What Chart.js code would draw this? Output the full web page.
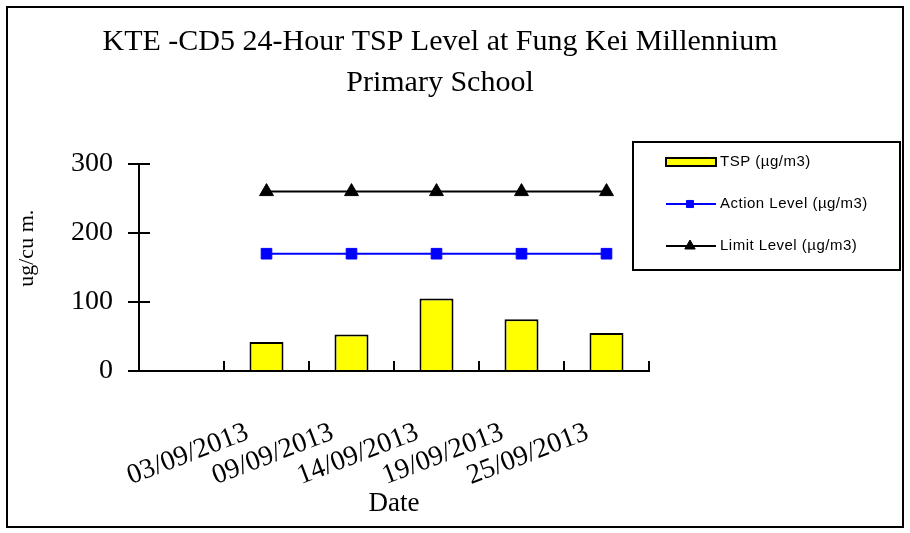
<!DOCTYPE html>
<html>
<head>
<meta charset="utf-8">
<script src="https://cdn.jsdelivr.net/npm/chart.js@4"></script>
<style>
  html, body { margin: 0; padding: 0; background: #fff; }
  canvas { display: block; }
</style>
</head>
<body>
<canvas id="chart" width="910" height="533"></canvas>
<script>
// Values.
const categories = ['', '03/09/2013', '09/09/2013', '14/09/2013', '19/09/2013', '25/09/2013'];
const tspValues = [null, 42, 53, 105, 75, 55];
const actionLevel = [null, 170, 170, 170, 170, 170];
const limitLevel = [null, 260, 260, 260, 260, 260];
const yTicks = [0, 100, 200, 300];

const titleLines = ['KTE -CD5 24-Hour TSP Level at Fung Kei Millennium', 'Primary School'];
const seriesLabels = ['TSP (\u00b5g/m3)', 'Action Level (\u00b5g/m3)', 'Limit Level (\u00b5g/m3)'];

const SERIF = '"Liberation Serif", "DejaVu Serif", serif';
const SANS = '"Liberation Sans", Arial, sans-serif';

Chart.defaults.color = '#000';

// Frame round the whole picture, plus the tick marks that point into the plot.
const decorations = {
  id: 'decorations',
  afterDraw(chart) {
    const ctx = chart.ctx;
    const x = chart.scales.x;
    const y = chart.scales.y;
    ctx.save();
    ctx.strokeStyle = '#000';
    ctx.lineWidth = 2;
    ctx.strokeRect(7, 7, 896, 520);

    ctx.beginPath();
    const step = (x.right - x.left) / categories.length;
    for (let i = 1; i <= categories.length; i++) {
      const px = Math.round(x.left + i * step);
      ctx.moveTo(px, y.bottom);
      ctx.lineTo(px, y.bottom - 10);
    }
    y.ticks.forEach((t, i) => {
      const py = y.getPixelForTick(i);
      ctx.moveTo(y.right, py);
      ctx.lineTo(y.right + 11, py);
    });
    ctx.stroke();
    ctx.restore();
  },
};

// Legend in its own bordered box at the right.
const boxLegend = {
  id: 'boxLegend',
  afterDraw(chart) {
    const ctx = chart.ctx;
    const ds = chart.data.datasets;
    ctx.save();
    ctx.strokeStyle = '#000';
    ctx.lineWidth = 2;
    ctx.strokeRect(633, 142, 267, 128);

    const rows = [162, 204, 246];
    const sx = 666, ex = 716, mx = 690;

    // bar swatch
    ctx.fillStyle = ds[0].backgroundColor;
    ctx.fillRect(sx, rows[0] - 4, ex - sx, 8);
    ctx.strokeStyle = ds[0].borderColor;
    ctx.strokeRect(sx, rows[0] - 4, ex - sx, 8);

    // line swatches with their markers
    [1, 2].forEach((k) => {
      const cy = rows[k];
      ctx.strokeStyle = ds[k].borderColor;
      ctx.fillStyle = ds[k].pointBackgroundColor;
      ctx.lineWidth = 2;
      ctx.beginPath();
      ctx.moveTo(sx, cy);
      ctx.lineTo(ex, cy);
      ctx.stroke();
      ctx.lineWidth = 1;
      Chart.helpers.drawPoint(ctx, {
        pointStyle: ds[k].pointStyle,
        radius: k === 1 ? 5 : 6,
        borderWidth: 1,
        rotation: 0,
      }, mx, cy);
    });

    ctx.font = '15px ' + SANS;
    ctx.letterSpacing = '0.5px';
    ctx.textBaseline = 'middle';
    ctx.fillStyle = '#000';
    ds.forEach((d, k) => ctx.fillText(d.label, 720, rows[k]));
    ctx.restore();
  },
};

new Chart(document.getElementById('chart'), {
  data: {
    labels: categories,
    datasets: [
      {
        type: 'bar',
        label: seriesLabels[0],
        data: tspValues,
        backgroundColor: '#FFFF00',
        borderColor: '#000',
        borderWidth: 2,
        barPercentage: 0.4,
        categoryPercentage: 1,
        order: 3,
      },
      {
        type: 'line',
        label: seriesLabels[1],
        data: actionLevel,
        borderColor: '#0000FF',
        backgroundColor: '#0000FF',
        borderWidth: 2,
        pointStyle: 'rect',
        pointRadius: 7.5,
        pointBorderWidth: 1,
        pointBackgroundColor: '#0000FF',
        pointBorderColor: '#0000FF',
        fill: false,
        order: 2,
      },
      {
        type: 'line',
        label: seriesLabels[2],
        data: limitLevel,
        borderColor: '#000',
        backgroundColor: '#000',
        borderWidth: 2,
        pointStyle: 'triangle',
        pointRadius: 8,
        pointBorderWidth: 1,
        pointBackgroundColor: '#000',
        pointBorderColor: '#000',
        fill: false,
        order: 1,
      },
    ],
  },
  options: {
    responsive: false,
    animation: false,
    devicePixelRatio: 1,
    layout: { padding: { left: 0, right: 30, top: 0, bottom: 0 } },
    plugins: {
      legend: { display: false },
      tooltip: { enabled: false },
      title: {
        display: true,
        text: titleLines,
        color: '#000',
        font: { family: SERIF, size: 30, weight: 'normal', lineHeight: 1.35 },
        padding: { top: 22, bottom: 61 },
      },
    },
    scales: {
      x: {
        offset: true,
        afterFit: (s) => { s.height = 162; },
        grid: { display: false },
        border: { display: true, color: '#000', width: 2 },
        ticks: {
          autoSkip: false,
          minRotation: 21,
          maxRotation: 21,
          padding: 37,
          labelOffset: -19,
          font: { family: SERIF, size: 28 },
        },
        title: {
          display: true,
          text: 'Date',
          font: { family: SERIF, size: 27 },
          padding: { top: 0, bottom: 13 },
        },
      },
      y: {
        min: 0,
        max: 300,
        afterFit: (s) => { s.width = 139; },
        afterBuildTicks: (s) => { s.ticks = yTicks.map((v) => ({ value: v })); },
        grid: { drawOnChartArea: false, drawTicks: true, tickLength: 11, color: '#000', lineWidth: 2 },
        border: { display: true, color: '#000', width: 2 },
        ticks: {
          padding: 15,
          font: { family: SERIF, size: 28 },
        },
        title: {
          display: true,
          // leading spaces nudge the rotated title up a little
          text: '\u00a0\u00a0\u00a0\u00a0\u00a0\u00a0\u00a0ug/cu m.',
          font: { family: SERIF, size: 22 },
          padding: { top: 14, bottom: 0 },
        },
      },
      // empty right-hand strip that keeps the plot clear of the legend box
      // while the title stays centred over the whole picture
      side: {
        type: 'linear',
        position: 'right',
        afterFit: (s) => { s.width = 231; },
        grid: { display: false },
        border: { display: false },
        ticks: { display: false },
      },
    },
  },
  plugins: [decorations, boxLegend],
});
</script>
</body>
</html>
